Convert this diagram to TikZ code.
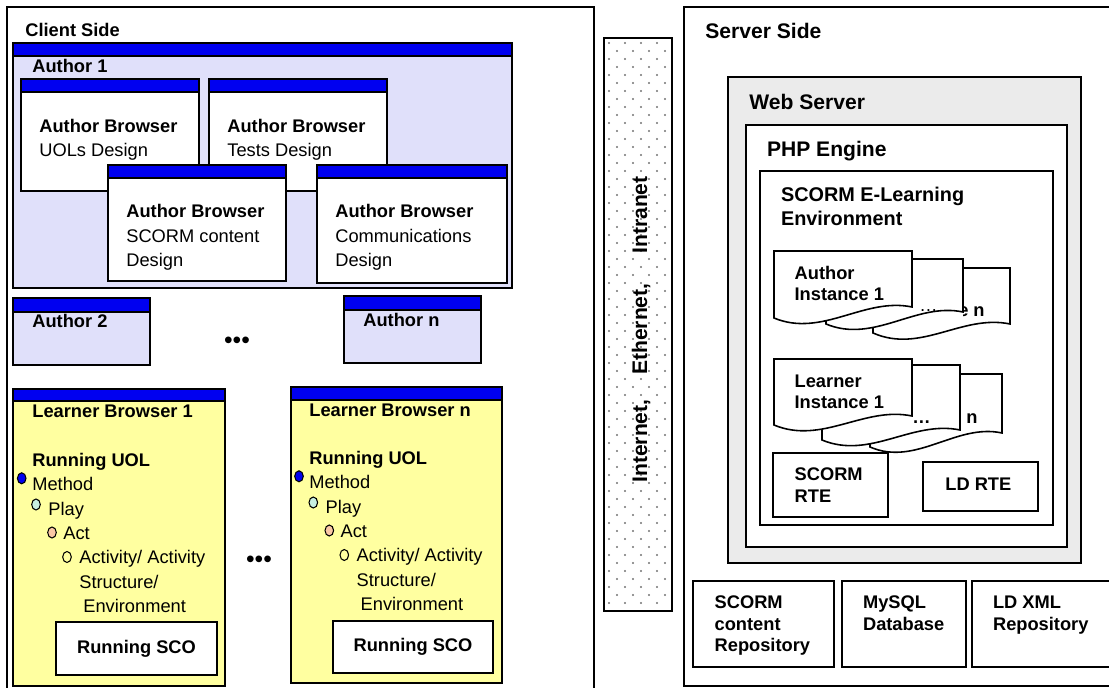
\documentclass[tikz,border=0pt]{standalone}
\usepackage{fontspec}
\setmainfont{Liberation Sans}
\definecolor{winblue}{RGB}{0,0,240}
\definecolor{authorfill}{RGB}{224,224,250}
\definecolor{learnerfill}{RGB}{255,255,160}
\definecolor{serverfill}{RGB}{235,235,235}
\definecolor{playdot}{RGB}{200,240,225}
\definecolor{actdot}{RGB}{250,200,165}
\tikzset{
	frame/.style={draw, line width=1pt},
	bar/.style={draw, line width=1pt, fill=winblue},
	doc/.style={draw, line width=0.9pt, fill=white},
	hd/.style={font=\fontsize{10.4}{12}\selectfont\bfseries, anchor=base west, inner sep=0pt},
	txt/.style={font=\fontsize{10.4}{12}\selectfont, anchor=base west, inner sep=0pt},
	big/.style={font=\fontsize{12}{14}\selectfont\bfseries, anchor=base west, inner sep=0pt},
	bulletdot/.style={draw, line width=0.6pt, x radius=4.3, y radius=5.5}
}
\begin{document}
\begin{tikzpicture}[x=0.02cm, y=-0.02cm]
			\useasboundingbox (0,0) rectangle (1109,688);
			\clip (0,0) rectangle (1109,688);
			
			%Client side
			\draw[frame] (7,7) rectangle (594,700);
			\node[hd] (client) at (25,36.4) {Client Side};
			
			%Author 1 block
			\draw[frame, fill=authorfill] (13,43) rectangle (512,288);
			\draw[bar] (13,43) rectangle (512,56);
			\node[hd] (author1) at (32,72.4) {Author 1};
			
			%Author browsers
			\draw[frame, fill=white] (21,79) rectangle (199,191);
			\draw[bar] (21,79) rectangle (199,92);
			\node[hd] (uols) at (39,132.4) {Author Browser};
			\node[txt] (uolsdesign) at (39,156.4) {UOLs Design};
			
			\draw[frame, fill=white] (209,79) rectangle (387,191);
			\draw[bar] (209,79) rectangle (387,92);
			\node[hd] (tests) at (227,132.4) {Author Browser};
			\node[txt] (testsdesign) at (227,156.4) {Tests Design};
			
			\draw[frame, fill=white] (108,165) rectangle (286,281);
			\draw[bar] (108,165) rectangle (286,178);
			\node[hd] (scorm) at (126,218) {Author Browser};
			\node[txt] (scormdesign) at (126,243) {SCORM content};
			\node[txt] (scormdesignb) at (126,267) {Design};
			
			\draw[frame, fill=white] (317,165) rectangle (507,283);
			\draw[bar] (317,165) rectangle (507,178);
			\node[hd] (comm) at (335,218) {Author Browser};
			\node[txt] (commdesign) at (335,243) {Communications};
			\node[txt] (commdesignb) at (335,267) {Design};
			
			%Author 2 and Author n
			\draw[frame, fill=authorfill] (13,298) rectangle (150,365);
			\draw[bar] (13,298) rectangle (150,312);
			\node[hd] (author2) at (32,328) {Author 2};
			
			\draw[frame, fill=authorfill] (344,296) rectangle (481,363);
			\draw[bar] (344,296) rectangle (481,310);
			\node[hd] (authorn) at (363,326.4) {Author n};
			
			\node[font=\fontsize{14}{16}\selectfont] (authordots) at (237,343) {•••};
			
			%Learner browser 1
			\draw[frame, fill=learnerfill] (13,389) rectangle (225,686);
			\draw[bar] (13,389) rectangle (225,401);
			\node[hd] (learner1) at (32,418) {Learner Browser 1};
			\node[hd] (uol1) at (32,466.4) {Running UOL};
			\draw[bulletdot, fill=winblue] (21.7,478.3) ellipse [];
			\node[txt] (method1) at (32,490.8) {Method};
			\draw[bulletdot, fill=playdot] (36,504.5) ellipse [];
			\node[txt] (play1) at (48,515.2) {Play};
			\draw[bulletdot, fill=actdot] (52,532.5) ellipse [];
			\node[txt] (act1) at (63,539.6) {Act};
			\draw[bulletdot, fill=learnerfill] (67,557) ellipse [];
			\node[txt] (activity1) at (79,564) {Activity/ Activity};
			\node[txt] (structure1) at (79,588.4) {Structure/};
			\node[txt] (environment1) at (83,612.8) {Environment};
			\draw[frame, fill=white] (56,622) rectangle (217,675);
			\node[hd, anchor=center] (sco1) at (136.5,648.5) {Running SCO};
			
			%Learner browser n
			\draw[frame, fill=learnerfill] (291,387) rectangle (502,683);
			\draw[bar] (291,387) rectangle (502,400);
			\node[hd] (learnern) at (309,416.4) {Learner Browser n};
			\node[hd] (uoln) at (309,464.4) {Running UOL};
			\draw[bulletdot, fill=winblue] (299,476.3) ellipse [];
			\node[txt] (methodn) at (309,488.8) {Method};
			\draw[bulletdot, fill=playdot] (313.3,502.5) ellipse [];
			\node[txt] (playn) at (325.3,513.2) {Play};
			\draw[bulletdot, fill=actdot] (329.3,530.5) ellipse [];
			\node[txt] (actn) at (340.3,537.6) {Act};
			\draw[bulletdot, fill=learnerfill] (344.3,555) ellipse [];
			\node[txt] (activityn) at (356.3,562) {Activity/ Activity};
			\node[txt] (structuren) at (356.3,586.4) {Structure/};
			\node[txt] (environmentn) at (360.3,610.8) {Environment};
			\draw[frame, fill=white] (333,621) rectangle (493,673);
			\node[hd, anchor=center] (scon) at (413,647) {Running SCO};
			
			\node[font=\fontsize{14}{16}\selectfont] (learnerdots) at (259,562) {•••};
			
			%Network strip
			\draw[frame] (604,38) rectangle (672,611);
			\foreach \row in {0,...,70} {
				\pgfmathsetmacro\yy{43+8*\row}
				\pgfmathsetmacro\xs{mod(\row,2)*8}
				\foreach \col in {0,...,3}
				\fill[black!55] (609+\xs+16*\col,\yy) circle [radius=1.1];
			}
			\node[big, rotate=90] (network) at (647,483) {Internet,\hspace{14pt}Ethernet,\hspace{17pt}Intranet};
			
			%Server side
			\draw[frame] (684,7) rectangle (1130,686);
			\node[big] (server) at (705,39) {Server Side};
			
			\draw[frame, fill=serverfill] (728,77) rectangle (1081,563);
			\node[big] (web) at (749,109.5) {Web Server};
			
			\draw[frame, fill=white] (746,125) rectangle (1067,547);
			\node[big] (php) at (766.7,157) {PHP Engine};
			
			\draw[frame] (760,171) rectangle (1053,525);
			\node[big, font=\fontsize{11.3}{13}\selectfont\bfseries] (elearn) at (780.7,201.6) {SCORM E-Learning};
			\node[big, font=\fontsize{11.3}{13}\selectfont\bfseries] (elearnb) at (780.7,226) {Environment};
			
			%Author instances
			\draw[doc] (873,268) -- (1010,268) -- (1010,324) .. controls (962,314) and (921,354) .. (873,333) -- cycle;
			\begin{scope}
				\clip (963,290) rectangle (1008,322);
				\node[hd] (authorinstn) at (985,317) [anchor=base east] {e n};
			\end{scope}
			\draw[doc] (826,259) -- (963,259) -- (963,312) .. controls (916,302) and (874,344) .. (826,324) -- cycle;
			\node[txt] (authorinstdots) at (919,312) {…};
			\draw[doc] (774,251) -- (912,251) -- (912,307) .. controls (864,297) and (822,338) .. (774,318) -- cycle;
			\node[hd] (authorinst) at (794.3,279.8) {Author};
			\node[hd] (authorinstb) at (794.3,300.4) {Instance 1};
			
			%Learner instances
			\draw[doc] (870,374) -- (1002,374) -- (1002,433) .. controls (956,423) and (916,467) .. (870,447) -- cycle;
			\node[hd] (learnerinstn) at (966,424) {n};
			\draw[doc] (822,365) -- (960,365) -- (960,430) .. controls (912,420) and (870,460) .. (822,440) -- cycle;
			\node[hd] (learnerinstdots) at (912,424) {…};
			\draw[doc] (774,359) -- (912,359) -- (912,416) .. controls (864,406) and (822,445) .. (774,425) -- cycle;
			\node[hd] (learnerinst) at (794.3,388) {Learner};
			\node[hd] (learnerinstb) at (794.3,409) {Instance 1};
			
			%Run time environments
			\draw[frame, fill=white] (773,453) rectangle (888,517);
			\node[hd] (scormrte) at (794.3,480.8) {SCORM};
			\node[hd] (scormrteb) at (794.3,502.4) {RTE};
			\draw[frame, fill=white] (923,462) rectangle (1038,511);
			\node[hd] (ldrte) at (945,490.4) {LD RTE};
			
			%Repositories
			\draw[frame] (693,581) rectangle (834,667);
			\node[hd] (repo) at (714.3,609) {SCORM};
			\node[hd] (repob) at (714.3,630.4) {content};
			\node[hd] (repoc) at (714.3,652) {Repository};
			\draw[frame] (842,581) rectangle (966,667);
			\node[hd] (mysql) at (862.7,609) {MySQL};
			\node[hd] (mysqlb) at (862.7,630.4) {Database};
			\draw[frame] (972,581) rectangle (1130,667);
			\node[hd] (ldxml) at (992.7,609) {LD XML};
			\node[hd] (ldxmlb) at (992.7,630.4) {Repository};
			
\end{tikzpicture}
\end{document}
